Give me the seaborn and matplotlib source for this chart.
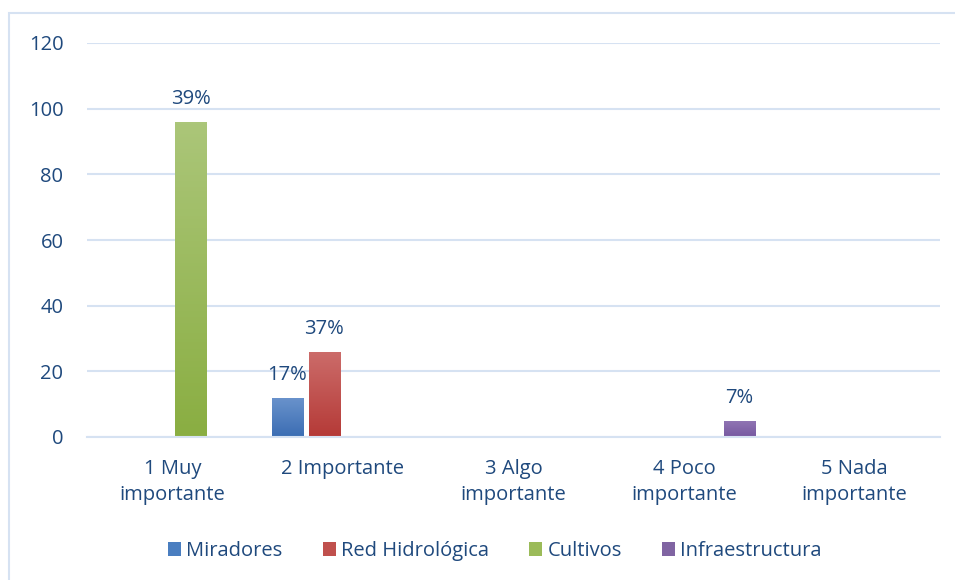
import numpy as np
import pandas as pd
import matplotlib
matplotlib.use("Agg")
import matplotlib.pyplot as plt
import seaborn as sns
from matplotlib.colors import LinearSegmentedColormap
from matplotlib.patches import Rectangle

categories = ["1 Muy\nimportante", "2 Importante", "3 Algo\nimportante", "4 Poco\nimportante", "5 Nada\nimportante"]
series = ["Miradores", "Red Hidrológica", "Cultivos", "Infraestructura"]
miradores = [0, 12, 0, 0, 0]
red_hidro = [0, 26, 0, 0, 0]
cultivos = [96, 0, 0, 0, 0]
infraestructura = [0, 0, 0, 5, 0]
labels = {("Cultivos", 0): "39%", ("Miradores", 1): "17%", ("Red Hidrológica", 1): "37%", ("Infraestructura", 3): "7%"}

colors = ["#4A7EC0", "#C0504D", "#9BBB59", "#8064A2"]
grad = {
    "Miradores": ("#6A93CC", "#3B6DB3"),
    "Red Hidrológica": ("#CC6C6A", "#B53A37"),
    "Cultivos": ("#ABC679", "#8AAE42"),
    "Infraestructura": ("#9176B4", "#7758A0"),
}

rows = []
for s, vals in zip(series, [miradores, red_hidro, cultivos, infraestructura]):
    for c, v in zip(categories, vals):
        rows.append({"cat": c, "series": s, "value": v})
df = pd.DataFrame(rows)

text_color = "#1F497D"
grid_color = "#D6E2F2"
font = "Open Sans"
fs = 14.5

sns.set_style("white")
plt.rcParams["font.family"] = [font, "DejaVu Sans"]

fig = plt.figure(figsize=(9.55, 5.8), dpi=100)
ax = fig.add_axes([87/955, 1-437/580, (940-87)/955, (437-43)/580])

sns.barplot(data=df, x="cat", y="value", hue="series", order=categories,
            hue_order=series, palette=colors, width=0.866, gap=0.16,
            ax=ax, legend=True, saturation=1, linewidth=0)

ax.set_ylim(0, 120)
ax.set_xlim(-0.5, 4.5)
ax.set_yticks(range(0, 121, 20))
ax.yaxis.grid(True, color=grid_color, linewidth=1.5)
ax.set_axisbelow(True)
for sp in ["top", "right", "left"]:
    ax.spines[sp].set_visible(False)
ax.spines["bottom"].set_color(grid_color)
ax.spines["bottom"].set_linewidth(1.5)
ax.tick_params(axis="both", length=0, labelsize=fs, labelcolor=text_color)
ax.tick_params(axis="y", pad=17)
ax.tick_params(axis="x", pad=16)
for t in ax.get_xticklabels():
    t.set_linespacing(1.4)
ax.set_xlabel("")
ax.set_ylabel("")

# gradients and labels
for s, cont in zip(series, ax.containers):
    top, bot = grad[s]
    cmap = LinearSegmentedColormap.from_list(s, [bot, top])
    for i, patch in enumerate(cont.patches):
        h = patch.get_height()
        if h <= 0:
            continue
        x0 = patch.get_x()
        w = patch.get_width()
        g = np.linspace(0, 1, 100).reshape(-1, 1)
        im = ax.imshow(g, cmap=cmap, origin="lower", aspect="auto",
                       extent=[x0, x0 + w, 0, h], zorder=patch.get_zorder() + 0.1)
        im.set_clip_path(patch)
    bl = [labels.get((s, i), "") for i in range(len(categories))]
    ax.bar_label(cont, labels=bl, padding=9, fontsize=fs, color=text_color)

ax.set_xlim(-0.5, 4.5)
ax.set_ylim(0, 120)

ax_w = 940 - 87
leg = ax.legend(loc="center", bbox_to_anchor=((495 - 87) / ax_w, (1-551/580 - (1-437/580)) / ((437-43)/580)),
                ncol=4, frameon=False, fontsize=fs, handlelength=0.65, handleheight=0.65,
                handletextpad=0.25, columnspacing=2.0, labelcolor=text_color)

fig.patches.append(Rectangle((9/955, -0.01), 1.0, 1 - 13/580 + 0.01, transform=fig.transFigure,
                             fill=False, edgecolor=grid_color, linewidth=1.5, figure=fig))

fig.savefig("out.png", dpi=100)
